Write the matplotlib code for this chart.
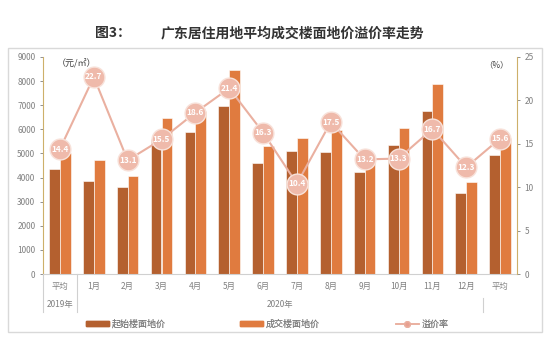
import matplotlib
matplotlib.use("Agg")
import matplotlib.pyplot as plt
from matplotlib.patches import Rectangle
from matplotlib.lines import Line2D
import numpy as np

plt.rcParams["font.family"] = ["Noto Sans CJK SC", "DejaVu Sans"]

months = ["平均", "1月", "2月", "3月", "4月", "5月", "6月", "7月", "8月",
          "9月", "10月", "11月", "12月", "平均"]
start_price = [4340, 3840, 3590, 5600, 5900, 6980, 4590, 5120, 5080,
               4210, 5370, 6780, 3380, 4920]
deal_price = [5000, 4710, 4050, 6450, 6750, 8470, 5290, 5620, 5990,
              4790, 6070, 7890, 3800, 5660]
premium = [14.4, 22.7, 13.1, 15.5, 18.6, 21.4, 16.3, 10.4, 17.5,
           13.2, 13.3, 16.7, 12.3, 15.6]
legend_labels = ["起始楼面地价", "成交楼面地价", "溢价率"]

DARK = "#b4602f"
LIGHT = "#e07b3f"
LINEC = "#eab0a0"
AXISC = "#cdb06a"
GREY = "#808080"

fig = plt.figure(figsize=(5.5, 3.48), dpi=100)
W, H = 550, 348

# outer frame
fig.patches.append(Rectangle((8 / W, 1 - 332 / H), 534 / W, 284 / H,
                             transform=fig.transFigure, fill=False,
                             edgecolor="#d9d9d9", lw=1))
fig.text(95 / W, 1 - 33 / H, "图3：", fontsize=10, weight="bold",
         color="#333333", va="center")
fig.text(292 / W, 1 - 33 / H, "广东居住用地平均成交楼面地价溢价率走势",
         fontsize=10, weight="bold", color="#333333", va="center", ha="center")

ax = fig.add_axes([43 / W, 1 - 274 / H, 474 / W, 217 / H])
x = np.arange(len(months))
bw = 0.32
ax.bar(x - bw / 2, start_price, bw, color=DARK, edgecolor="white", lw=0.4)
ax.bar(x + bw / 2, deal_price, bw, color=LIGHT, edgecolor="white", lw=0.4)
ax.set_xlim(-0.5, len(months) - 0.5)
ax.set_ylim(0, 9000)
ax.set_yticks(range(0, 9001, 1000))
ax.tick_params(axis="y", labelsize=6, colors=GREY, length=2, width=0.6)
ax.tick_params(axis="x", length=0, labelsize=6, colors=GREY, pad=6)
ax.set_xticks(x)
ax.set_xticklabels(months)
for s in ["top", "right"]:
    ax.spines[s].set_visible(False)
ax.spines["left"].set_color(AXISC)
ax.spines["bottom"].set_color("#d0d0d0")
ax.spines["bottom"].set_linewidth(0.8)

ax2 = ax.twinx()
ax2.plot(x, premium, color=LINEC, lw=1.5, marker="o", markersize=15,
         markerfacecolor="#efbaab", markeredgecolor="#f8e2da", mew=1,
         zorder=3)
for xi, v in zip(x, premium):
    ax2.text(xi, v, f"{v}", ha="center", va="center", fontsize=6,
             color="white", weight="bold", zorder=4)
ax2.set_ylim(0, 25)
ax2.set_yticks(range(0, 26, 5))
ax2.tick_params(axis="y", labelsize=6, colors=GREY, length=2, width=0.6)
for s in ["top", "left", "bottom"]:
    ax2.spines[s].set_visible(False)
ax2.spines["right"].set_color(AXISC)

ax.text(0.03, 0.97, "（元/㎡）", transform=ax.transAxes, fontsize=6.5,
        color="#404040", va="center")
ax2.text(0.93, 0.965, "（%）", transform=ax.transAxes, fontsize=6,
         color="#404040", va="center")

# multi-level category separators and year labels
sep = dict(color="#d0d0d0", lw=0.8, clip_on=False,
           transform=ax.get_xaxis_transform())
ax.plot([-0.5, -0.5], [0, -0.175], **sep)
ax.plot([0.5, 0.5], [0, -0.175], **sep)
ax.plot([12.5, 12.5], [-0.11, -0.175], **sep)
ax.text(0, -0.142, "2019年", transform=ax.get_xaxis_transform(),
        ha="center", va="center", fontsize=6, color=GREY)
ax.text(6.5, -0.142, "2020年", transform=ax.get_xaxis_transform(),
        ha="center", va="center", fontsize=6, color=GREY)

handles = [Rectangle((0, 0), 1, 1, color=DARK),
           Rectangle((0, 0), 1, 1, color=LIGHT),
           Line2D([], [], color=LINEC, marker="o", markersize=4,
                  markerfacecolor="#e8a090", lw=1.2)]
for h, lab, px in zip(handles, legend_labels, [78, 232, 388]):
    leg = fig.legend([h], [lab], loc="center left",
                     bbox_to_anchor=(px / W, 1 - 324 / H), frameon=False,
                     fontsize=6.5, labelcolor=GREY, handlelength=2.5,
                     handleheight=0.5, handletextpad=0.3)
    fig.add_artist(leg)

fig.savefig("out.png", dpi=100)
